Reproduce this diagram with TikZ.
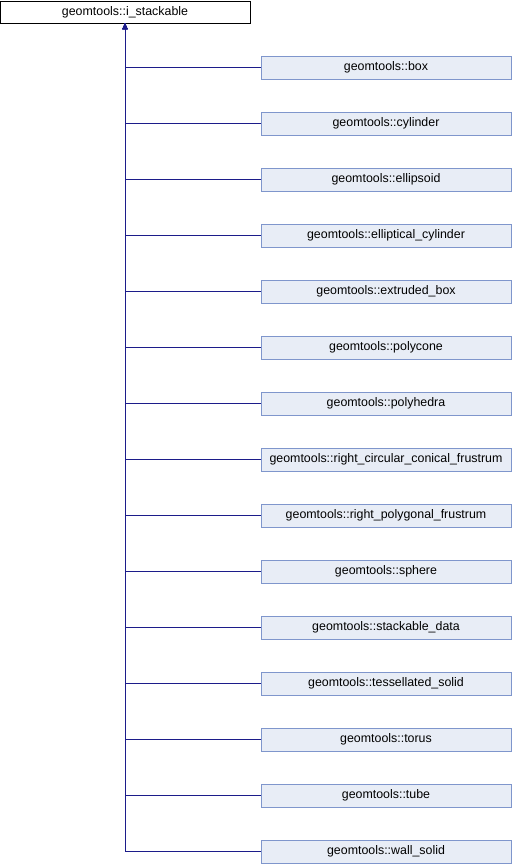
\documentclass[tikz,border=0pt]{standalone}
\usepackage{fontspec}
\setmainfont{Liberation Sans}
\usetikzlibrary{arrows.meta}
\definecolor{edgeblue}{HTML}{1C1C8A}
\definecolor{boxfill}{HTML}{E8EDF6}
\definecolor{boxline}{HTML}{7F96CC}
\begin{document}
\begin{tikzpicture}[x=1pt,y=-1pt,
	cls/.style={draw=boxline, fill=boxfill, minimum width=250pt, minimum height=23pt, inner sep=0pt, font=\fontsize{12.4}{14}\selectfont},
	edge/.style={draw=edgeblue, -{Triangle[length=6pt,width=5pt]}}]
	\useasboundingbox (0,0) rectangle (512,864);
	\node[cls, draw=black, fill=white, minimum height=22pt] (base) at (125,12) {geomtools::i\_stackable};
	\foreach \name [count=\i from 0] in {box, cylinder, ellipsoid, elliptical\_cylinder, extruded\_box, polycone, polyhedra, right\_circular\_conical\_frustrum, right\_polygonal\_frustrum, sphere, stackable\_data, tessellated\_solid, torus, tube, wall\_solid} {
		% derived classes
		\node[cls] (c\i) at (386, 67.5+56*\i) {geomtools::\name};
		\draw[edge] (c\i.west) -| (base.south);
	}
\end{tikzpicture}
\end{document}
